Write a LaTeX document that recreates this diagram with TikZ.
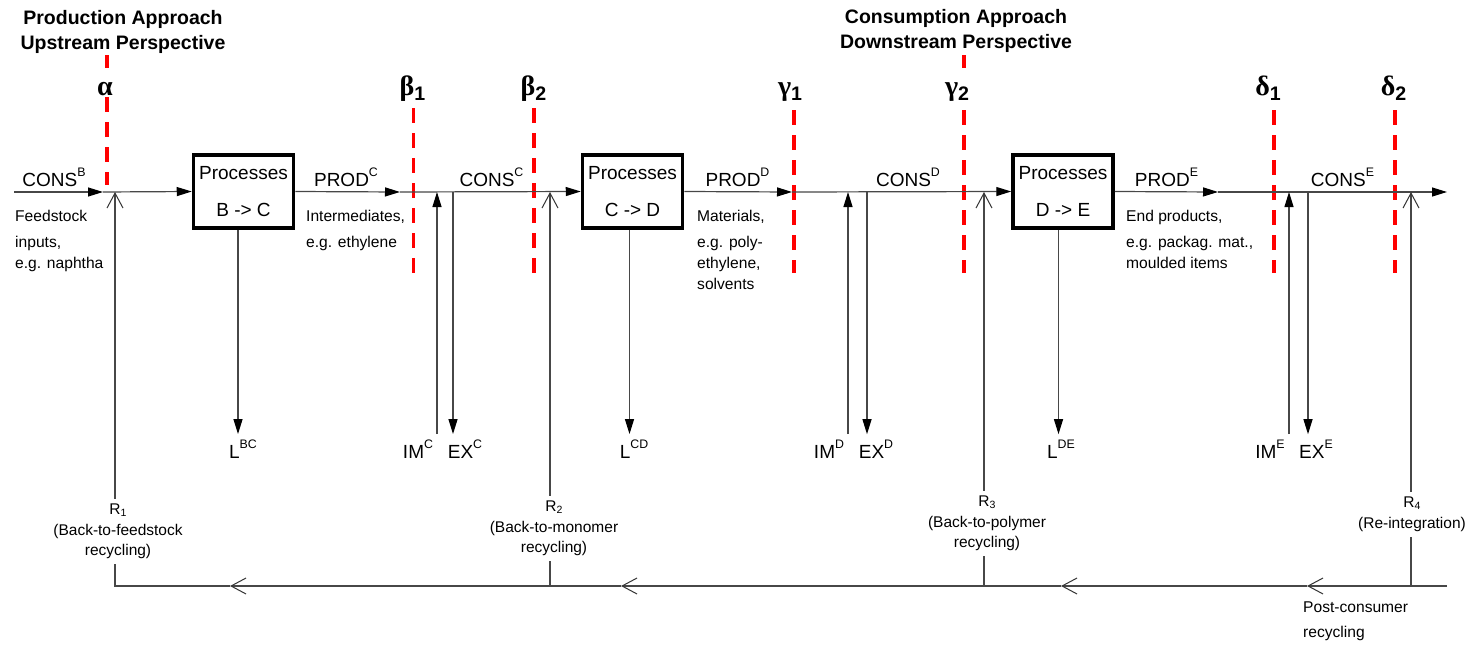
\documentclass[tikz,border=0pt]{standalone}
\usepackage{fontspec}
\setmainfont{Liberation Sans}
\newfontfamily\grk{Liberation Serif}
\usepackage{graphicx}
\usetikzlibrary{arrows.meta}
\newcommand{\su}[1]{\raisebox{0.48em}{\scalebox{0.65}{#1}}}
\newcommand{\sbs}[1]{\raisebox{-0.1em}{\scalebox{0.68}{#1}}}
\newcommand{\gsb}[1]{\raisebox{-0.18em}{\scalebox{0.7}{#1}}}
\begin{document}
\begin{tikzpicture}[x=1pt,y=-1pt,
  plain/.style={line width=1.2pt, draw=black!72},
  flow/.style={plain, -{Triangle[length=15pt,width=9pt,color=black]}},
  back/.style={plain, -{Straight Barb[length=15pt,width=16pt,line width=1pt,color=black!80]}},
  proc/.style={draw=black, line width=3.5pt, minimum width=100pt, minimum height=73pt, inner sep=0pt, align=center, font=\fontsize{19}{22}\selectfont},
  lbl/.style={font=\fontsize{19}{22}\selectfont, inner sep=0pt},
  lbltwo/.style={font=\fontsize{19}{22}\selectfont, inner xsep=0pt, inner ysep=6pt},
  sml/.style={font=\fontsize{15.6}{21}\selectfont, inner sep=0pt, align=left},
  rlab/.style={font=\fontsize{15.5}{20.5}\selectfont, align=center, inner xsep=0pt, inner ysep=5pt},
  ttl/.style={font=\bfseries\fontsize{19.5}{25}\selectfont, align=center, inner sep=0pt},
  grkl/.style={font=\bfseries\fontsize{28}{30}\selectfont, inner sep=0pt},
  sepline/.style={draw=red, line width=3.5pt, dash pattern=on 15pt off 10pt}
]
\useasboundingbox (0,0) rectangle (1470,645);

% titles
\node[ttl, anchor=north] (prodT) at (123,10) {Production Approach\\Upstream Perspective};
\node[ttl, anchor=north] (consT) at (956,9) {Consumption Approach\\Downstream Perspective};

% separators
\draw[sepline] (107,55) -- (107,68);
\draw[sepline] (107,97) -- (107,185);
\draw[sepline] (413.5,108) -- (413.5,273);
\draw[sepline] (534,108) -- (534,273);
\draw[sepline] (794,110) -- (794,273);
\draw[sepline] (964,55) -- (964,68);
\draw[sepline] (964,110) -- (964,273);
\draw[sepline] (1274,110) -- (1274,273);
\draw[sepline] (1395,110) -- (1395,273);

% greek labels
\node[grkl, anchor=base] (alpha) at (105,95) {{\grk α}};
\node[grkl, anchor=base] (beta1) at (412.5,95) {{\grk β}\gsb{1}};
\node[grkl, anchor=base] (beta2) at (533.5,95) {{\grk β}\gsb{2}};
\node[grkl, anchor=base] (gamma1) at (790,95) {{\grk γ}\gsb{1}};
\node[grkl, anchor=base] (gamma2) at (957,95) {{\grk γ}\gsb{2}};
\node[grkl, anchor=base] (delta1) at (1268,95) {{\grk δ}\gsb{1}};
\node[grkl, anchor=base] (delta2) at (1393.5,95) {{\grk δ}\gsb{2}};

% process boxes
\node[proc] (bc) at (243.5,191.5) {Processes\\[15pt]B -> C};
\node[proc] (cd) at (632.5,191.5) {Processes\\[15pt]C -> D};
\node[proc] (de) at (1063,191.5) {Processes\\[15pt]D -> E};

% main-line coordinates
\coordinate (s0) at (14,192);
\coordinate (t0) at (103,192);
\coordinate (m1) at (115,192);
\coordinate (t1) at (400,192);
\coordinate (mIMc) at (437,192);
\coordinate (mEXc) at (453,192);
\coordinate (m2) at (550,192);
\coordinate (t2) at (792,192);
\coordinate (mIMd) at (848,192);
\coordinate (mEXd) at (867,192);
\coordinate (m3) at (984,192);
\coordinate (t3) at (1218,192);
\coordinate (mIMe) at (1289,192);
\coordinate (mEXe) at (1308,192);
\coordinate (m4) at (1411,192);
\coordinate (t4) at (1447,192);

% bottom-line coordinates
\coordinate (bE) at (1447,586);
\coordinate (a4) at (1307,586);
\coordinate (b4) at (1411,586);
\coordinate (a3) at (1061,586);
\coordinate (b3) at (984,586);
\coordinate (a2) at (621,586);
\coordinate (b2) at (550,586);
\coordinate (a1) at (230,586);
\coordinate (b1) at (115,586);

% flow labels
\node[lbl, anchor=base] (consB) at (54,186) {CONS\su{B}};
\node[lbl, anchor=base] (prodC) at (346,186) {PROD\su{C}};
\node[lbl, anchor=base] (consC) at (491.5,186) {CONS\su{C}};
\node[lbl, anchor=base] (prodD) at (737.5,186) {PROD\su{D}};
\node[lbl, anchor=base] (consD) at (908,186) {CONS\su{D}};
\node[lbl, anchor=base] (prodE) at (1166.5,186) {PROD\su{E}};
\node[lbl, anchor=base] (consE) at (1342.5,186) {CONS\su{E}};

% descriptions
\node[sml, anchor=north west] (feed) at (15,209.6) {Feedstock\\[5pt]inputs,\\e.g. naphtha};
\node[sml, anchor=north west] (inter) at (306,209.6) {Intermediates,\\[5pt]e.g. ethylene};
\node[sml, anchor=north west] (mat) at (697,209.6) {Materials,\\[5pt]e.g. poly-\\ethylene,\\solvents};
\node[sml, anchor=north west] (endp) at (1126,209.6) {End products,\\[5pt]e.g. packag. mat.,\\moulded items};
\node[sml, anchor=north west] (post) at (1303,601.6) {Post-consumer\\[4pt]recycling};

% lower labels
\node[lbltwo, anchor=base] (Lbc) at (243,458) {L\su{BC}};
\node[lbltwo, anchor=base] (IMc) at (418,458) {IM\su{C}};
\node[lbltwo, anchor=base] (EXc) at (465,458) {EX\su{C}};
\node[lbltwo, anchor=base] (Lcd) at (634,458) {L\su{CD}};
\node[lbltwo, anchor=base] (IMd) at (829,458) {IM\su{D}};
\node[lbltwo, anchor=base] (EXd) at (876,458) {EX\su{D}};
\node[lbltwo, anchor=base] (Lde) at (1061,458) {L\su{DE}};
\node[lbltwo, anchor=base] (IMe) at (1270,458) {IM\su{E}};
\node[lbltwo, anchor=base] (EXe) at (1316,458) {EX\su{E}};

\coordinate (xbc) at (238,433);
\coordinate (xcd) at (629.5,433);
\coordinate (xde) at (1058.5,433);

% recycling labels
\node[rlab, anchor=north] (R1) at (118,498.9) {R\sbs{1}\\(Back-to-feedstock\\recycling)};
\node[rlab, anchor=north] (R2) at (554,495.9) {R\sbs{2}\\(Back-to-monomer\\recycling)};
\node[rlab, anchor=north] (R3) at (987,490.9) {R\sbs{3}\\(Back-to-polymer\\recycling)};
\node[rlab, anchor=north] (R4) at (1412,491.9) {R\sbs{4}\\(Re-integration)};

% main line
\draw[flow] (s0) -- (t0);
\draw[flow] (t0) -- (bc.west);
\draw[flow] (bc.east) -- (t1);
\draw[flow] (t1) -- (cd.west);
\draw[flow] (cd.east) -- (t2);
\draw[flow] (t2) -- (de.west);
\draw[flow] (de.east) -- (t3);
\draw[flow] (t3) -- (t4);

% losses
\draw[flow] (bc.south -| xbc) -- (xbc |- Lbc.north);
\draw[flow] (cd.south -| xcd) -- (xcd |- Lcd.north);
\draw[flow] (de.south -| xde) -- (xde |- Lde.north);

% imports / exports
\draw[flow] (mIMc |- IMc.north) -- (mIMc);
\draw[flow] (mEXc) -- (mEXc |- EXc.north);
\draw[flow] (mIMd |- IMd.north) -- (mIMd);
\draw[flow] (mEXd) -- (mEXd |- EXd.north);
\draw[flow] (mIMe |- IMe.north) -- (mIMe);
\draw[flow] (mEXe) -- (mEXe |- EXe.north);

% recycling loop
\draw[back] (bE) -- (a4);
\draw[back] (a4) -- (a3);
\draw[back] (a3) -- (a2);
\draw[back] (a2) -- (a1);
\draw[plain] (a1) -- (b1) -- (b1 |- R1.south);
\draw[back] (b1 |- R1.north) -- (m1);
\draw[plain] (b2) -- (b2 |- R2.south);
\draw[back] (b2 |- R2.north) -- (m2);
\draw[plain] (b3) -- (b3 |- R3.south);
\draw[back] (b3 |- R3.north) -- (m3);
\draw[plain] (b4) -- (b4 |- R4.south);
\draw[back] (b4 |- R4.north) -- (m4);
\end{tikzpicture}
\end{document}
